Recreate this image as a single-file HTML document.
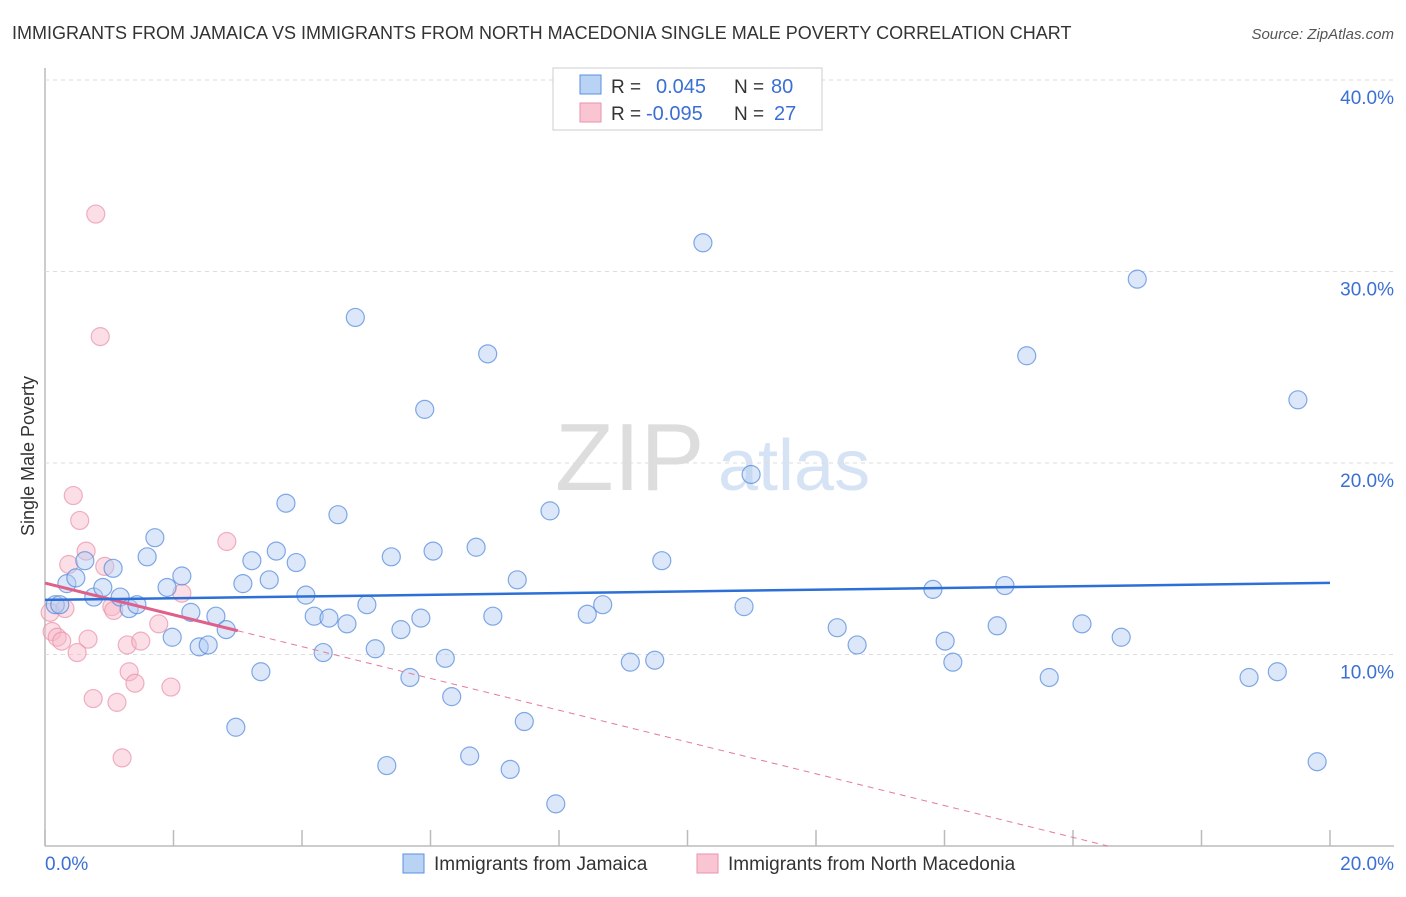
<!DOCTYPE html>
<html><head><meta charset="utf-8"><style>
body{margin:0;background:#fff;font-family:"Liberation Sans",sans-serif;}
svg text{font-family:"Liberation Sans",sans-serif;}
</style></head><body>
<svg id="c" width="1406" height="892" xmlns="http://www.w3.org/2000/svg">
<text x="12" y="39" font-size="18" fill="#333">IMMIGRANTS FROM JAMAICA VS IMMIGRANTS FROM NORTH MACEDONIA SINGLE MALE POVERTY CORRELATION CHART</text>
<text x="1394" y="39" font-size="15" fill="#555" font-style="italic" text-anchor="end">Source: ZipAtlas.com</text>
<text x="555" y="490" font-size="96" fill="#ddd" font-family="Liberation Serif">ZIP</text>
<text x="718" y="490" font-size="72" fill="#d5e3f5">atlas</text>
<text transform="translate(34,456) rotate(-90)" font-size="18" fill="#333" text-anchor="middle">Single Male Poverty</text>
<g id="grid"></g><g id="marks"></g>
<g>
<rect x="553" y="68" width="269" height="62" fill="#fff" stroke="#ccc"/>
<rect x="580" y="75" width="21" height="19" fill="#b9d3f5" stroke="#5b8fe0"/>
<rect x="580" y="103" width="21" height="19" fill="#f9c5d3" stroke="#ea93ad"/>
<text x="611" y="93" font-size="19" fill="#333">R =</text><text x="656" y="93" font-size="20" fill="#3b6fd4">0.045</text>
<text x="734" y="93" font-size="19" fill="#333">N =</text><text x="771" y="93" font-size="20" fill="#3b6fd4">80</text>
<text x="611" y="120" font-size="19" fill="#333">R =</text><text x="646" y="120" font-size="20" fill="#3b6fd4">-0.095</text>
<text x="734" y="120" font-size="19" fill="#333">N =</text><text x="774" y="120" font-size="20" fill="#3b6fd4">27</text>
</g>
<g>
<rect x="403" y="854" width="21" height="19" fill="#b9d3f5" stroke="#5b8fe0"/>
<text x="434" y="870" font-size="19" fill="#333">Immigrants from Jamaica</text>
<rect x="697" y="854" width="21" height="19" fill="#f9c5d3" stroke="#ea93ad"/>
<text x="728" y="870" font-size="19" fill="#333">Immigrants from North Macedonia</text>
</g>
<text x="45" y="870" font-size="19" fill="#3b6fd4">0.0%</text>
<text x="1394" y="870" font-size="19" fill="#3b6fd4" text-anchor="end">20.0%</text>
</svg>
<script>
const yTicks=[10,20,30,40];
const xTicks=[0,2,4,6,8,10,12,14,16,18,20];
const jamX=[.16,.23,.34,.48,.62,.76,.90,1.06,1.17,1.31,1.43,1.59,1.71,1.90,1.98,2.13,2.27,2.40,2.54,2.66,2.82,2.97,3.08,3.22,3.36,3.49,3.60,3.75,3.91,4.06,4.19,4.33,4.42,4.56,4.70,4.83,5.01,5.14,5.32,5.39,5.54,5.68,5.85,5.91,6.04,6.23,6.33,6.61,6.71,6.89,6.97,7.24,7.35,7.46,7.86,7.95,8.44,8.68,9.11,9.49,9.60,10.24,10.88,10.99,12.33,12.64,13.82,14.01,14.13,14.82,14.94,15.28,15.63,16.14,16.75,17.00,18.74,19.18,19.50,19.80];
const jamY=[12.6,12.6,13.7,14.0,14.9,13.0,13.5,14.5,13.0,12.4,12.6,15.1,16.1,13.5,10.9,14.1,12.2,10.4,10.5,12.0,11.3,6.2,13.7,14.9,9.1,13.9,15.4,17.9,14.8,13.1,12.0,10.1,11.9,17.3,11.6,27.6,12.6,10.3,4.2,15.1,11.3,8.8,11.9,22.8,15.4,9.8,7.8,4.7,15.6,25.7,12.0,4.0,13.9,6.5,17.5,2.2,12.1,12.6,9.6,9.7,14.9,31.5,12.5,19.4,11.4,10.5,13.4,10.7,9.6,11.5,13.6,25.6,8.8,11.6,10.9,29.6,8.8,9.1,23.3,4.4];
const macX=[.08,.11,.19,.26,.31,.37,.44,.54,.64,.67,.75,.79,.86,.93,1.04,1.07,1.12,1.20,1.28,1.31,1.40,1.49,1.77,1.96,2.13,2.83,.50];
const macY=[12.2,11.2,10.9,10.7,12.4,14.7,18.3,17.0,15.4,10.8,7.7,33.0,26.6,14.6,12.5,12.3,7.5,4.6,10.5,9.1,8.5,10.7,11.6,8.3,13.2,15.9,10.1];
const jamLine=[12.85,13.74]; // values at x=0 and x=20
const macLine=[13.73,-0.83]; // intercept, slope
const sx=v=>45+v*64.25, sy=v=>846-v*19.15;
const NS='http://www.w3.org/2000/svg';
function mk(p,t,a){const e=document.createElementNS(NS,t);for(const k in a)e.setAttribute(k,a[k]);p.appendChild(e);return e;}
const grid=document.getElementById('grid'),marks=document.getElementById('marks');
let ax=mk(grid,'line',{x1:45,y1:68,x2:45,y2:846,stroke:'#bbb','stroke-width':1.5});


let bx=mk(grid,'line',{x1:45,y1:846,x2:1394,y2:846,stroke:'#bbb','stroke-width':1.5});


yTicks.forEach(t=>{
 const g=mk(grid,'line',{x1:45,y1:sy(t),x2:1394,y2:sy(t),stroke:'#ddd','stroke-dasharray':'4,4'});
 
 
 const l=mk(grid,'text',{x:1394,y:sy(t)+24,'font-size':19,fill:'#3b6fd4','text-anchor':'end'});
 l.textContent=t.toFixed(1)+'%';
 
 
});
xTicks.forEach(t=>{
 const k=mk(grid,'line',{x1:sx(t),y1:830,x2:sx(t),y2:846,stroke:'#bbb','stroke-width':1.5});
 
 
});
function dots(X,Y,fill,stroke,name){X.forEach((x,i)=>{
 const c=mk(marks,'circle',{cx:sx(x),cy:sy(Y[i]),r:9,fill:fill,'fill-opacity':0.45,stroke:stroke,'stroke-opacity':0.7,'stroke-width':1.2});
 
 
});}
dots(macX,macY,'#f7b6c8','#e891aa','point-macedonia');
dots(jamX,jamY,'#b1cdf2','#4f86dc','point-jamaica');
const mEnd=-macLine[0]/macLine[1];
let md=mk(marks,'line',{x1:sx(3),y1:sy(macLine[0]+macLine[1]*3),x2:sx(mEnd),y2:sy(0),stroke:'#e47a9c','stroke-width':1,'stroke-dasharray':'6,5'});


let ms=mk(marks,'line',{x1:sx(0),y1:sy(macLine[0]),x2:sx(3),y2:sy(macLine[0]+macLine[1]*3),stroke:'#e0608c','stroke-width':3});


let jl=mk(marks,'line',{x1:sx(0),y1:sy(jamLine[0]),x2:sx(20),y2:sy(jamLine[1]),stroke:'#2c6fd6','stroke-width':2.5});


</script>
</body></html>
